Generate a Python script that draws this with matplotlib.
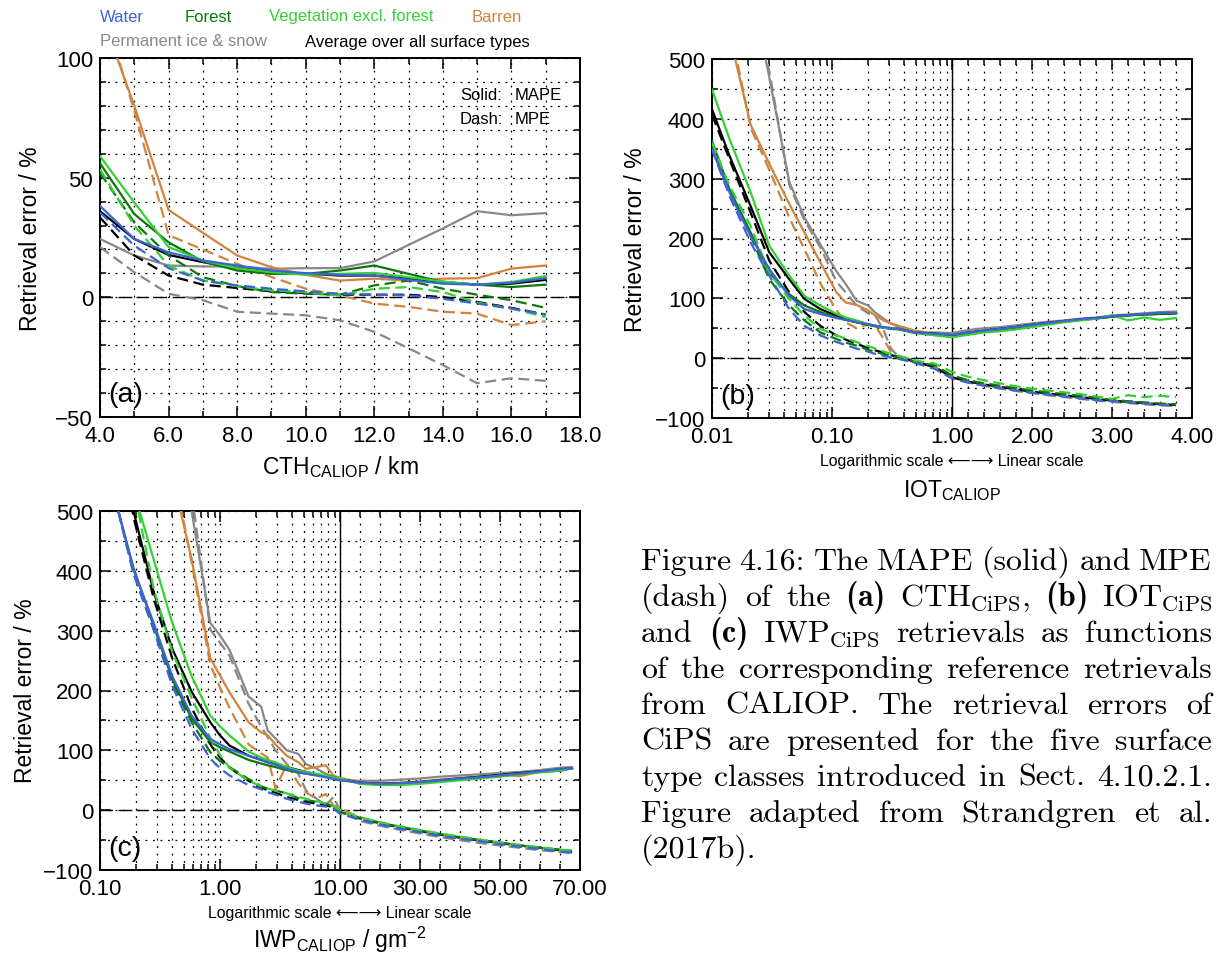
import numpy as np
import matplotlib
matplotlib.use('Agg')
import matplotlib.pyplot as plt

plt.rcParams['font.family'] = ['Liberation Sans', 'DejaVu Sans']
plt.rcParams['mathtext.fontset'] = 'custom'
plt.rcParams['mathtext.rm'] = 'cmr10'
plt.rcParams['mathtext.bf'] = 'cmb10'
plt.rcParams['mathtext.sf'] = 'Liberation Sans'

W, H = 1217, 954

names = ['Water', 'Forest', 'Vegetation excl. forest', 'Barren',
         'Permanent ice & snow', 'Average over all surface types']
colors = ['#3c63d8', '#0a780a', '#35d035', '#d0843e', '#888888', 'black']

# ---- (a) CTH ----
cth = [4, 5, 6, 7, 8, 9, 10, 11, 12, 13, 14, 15, 16, 17]
cth_water_mape = [38.2, 24.4, 18.8, 15.4, 13.3, 11.2, 10.1, 9.4, 9.1, 7.3, 5.7, 5.3, 6.1, 8.0]
cth_water_mpe = [35.5, 21.6, 12.2, 7.0, 5.0, 3.6, 2.5, 1.5, 1.1, 0.8, -0.6, -2.6, -4.7, -7.2]
cth_forest_mape = [56, 34.8, 23, 15, 11.2, 9.8, 9.8, 11.2, 13.3, 9.8, 6.4, 5.3, 4.3, 5.3]
cth_forest_mpe = [52, 31.3, 17.5, 8.4, 4.7, 2.2, 1.5, 1.1, 5.0, 7.0, 3.6, 1.1, -1.2, -4.4]
cth_veg_mape = [59, 39.6, 21, 15.4, 12.2, 10.5, 9.4, 9.8, 10.2, 8.4, 6.6, 5.3, 6.4, 8.9]
cth_veg_mpe = [53.5, 30, 13.3, 7.0, 4.7, 2.9, 2.2, 0.8, 3.6, 4.3, 2.2, -2.2, -4.7, -8.2]
cth_barren_mape = [120, 80, 36.5, 27, 17.5, 12.6, 9.4, 7.0, 7.8, 7.0, 7.8, 8.0, 12, 13.3]
cth_barren_mpe = [125, 78, 26, 20, 14, 8.5, 3.6, 0.8, -2.6, -4, -6, -6.8, -11.6, -10]
cth_ice_mape = [24.4, 17.5, 13.3, 12.9, 12.9, 11.9, 12.2, 12.2, 15, 21.9, 28.8, 36, 34.3, 35.2]
cth_ice_mpe = [21, 10.5, 1.5, -1.2, -6, -6.8, -7.5, -9.6, -14.4, -21.3, -28.3, -35.9, -33.8, -34.9]
cth_avg_mape = [36, 24.4, 17.7, 14.7, 12.2, 10.8, 9.8, 9.1, 9.1, 7.8, 6.4, 5.3, 5.7, 7.3]
cth_avg_mpe = [33.4, 17.5, 9.1, 5.3, 3.9, 2.5, 1.8, 1.1, 1.1, 1.1, 0.1, -1.9, -4.4, -7.2]

# ---- (b) IOT ----
iot = [0.01, 0.014, 0.021, 0.03, 0.044, 0.059, 0.08, 0.109, 0.13, 0.16, 0.2, 0.23,
       0.27, 0.31, 0.36, 0.49, 0.72, 1.0,
       1.2, 1.4, 1.6, 1.8, 2.0, 2.2, 2.4, 2.6, 2.8, 3.0, 3.2, 3.4, 3.6, 3.8]
iot_water_mape = [349, 277, 204, 149, 104, 82, 74, 67, 64, 60, 57, 54, 52, 50, 49, 43, 41, 39,
                  43, 46, 49, 52, 56, 59, 62, 65, 67, 70, 72, 74, 76, 76]
iot_water_mpe = [349, 271, 193, 138, 82, 54, 38, 27, 22, 16, 11, 7, 4, 1, -1, -8, -18, -34,
                 -41, -46, -50, -54, -58, -61, -64, -67, -70, -72, -74, -76, -78, -79]
iot_forest_mape = [363, 282, 210, 143, 107, 88, 77, 68, 64, 60, 56, 53, 51, 49, 48, 42, 39, 36,
                   40, 44, 47, 50, 55, 58, 61, 64, 66, 69, 71, 73, 74, 75]
iot_forest_mpe = [360, 282, 204, 132, 88, 63, 43, 32, 26, 21, 14, 10, 7, 4, 2, -6, -12, -29,
                  -37, -42, -46, -50, -54, -57, -60, -63, -66, -70, -72, -74, -76, -77]
iot_veg_mape = [449, 366, 277, 188, 138, 104, 88, 74, 68, 63, 57, 54, 51, 50, 49, 43, 38, 35,
                39, 43, 45, 48, 52, 56, 60, 63, 66, 72, 63, 68, 64, 67]
iot_veg_mpe = [360, 288, 221, 143, 99, 71, 49, 38, 33, 27, 20, 16, 11, 7, 4, -4, -9, -23,
               -31, -37, -42, -47, -51, -54, -57, -60, -64, -68, -62, -65, -63, -65]
iot_barren_mape = [700, 540, 390, 325, 258, 210, 160, 110, 93, 89, 80, 71, 63, 58, 54, 46, 41, 38,
                   42, 45, 48, 51, 55, 58, 62, 64, 67, 70, 72, 74, 75, 77]
iot_barren_mpe = [700, 560, 385, 315, 235, 182, 125, 80, 60, 50, 56, 54, 32, 10, -1, -7, -15, -29,
                  -37, -43, -48, -52, -56, -59, -62, -65, -67, -70, -72, -74, -76, -78]
iot_ice_mape = [900, 750, 620, 470, 295, 235, 190, 145, 124, 96, 88, 76, 66, 58, 52, 43, 43, 42,
                47, 50, 52, 55, 58, 61, 63, 66, 68, 71, 73, 75, 77, 78]
iot_ice_mpe = [900, 750, 620, 480, 290, 230, 185, 128, 110, 88, 75, 71, 46, 16, 2, -4, -15, -32,
               -40, -46, -51, -55, -58, -62, -65, -68, -71, -73, -75, -77, -79, -80]
iot_avg_mape = [416, 338, 254, 177, 132, 99, 82, 71, 65, 60, 56, 54, 51, 50, 49, 43, 41, 38,
                43, 46, 49, 52, 56, 59, 62, 65, 67, 70, 72, 73, 74, 75]
iot_avg_mpe = [407, 332, 243, 163, 110, 77, 54, 38, 31, 24, 17, 13, 9, 5, 2, -6, -15, -32,
               -39, -44, -48, -52, -56, -59, -62, -65, -68, -71, -73, -75, -77, -78]

# ---- (c) IWP ----
iwp = [0.142, 0.19, 0.28, 0.4, 0.58, 0.83, 1.0, 1.2, 1.73, 2.2, 2.5, 2.9, 3.6, 4.5,
       5.2, 6.3, 7.6, 8.8, 10,
       15, 20, 25, 30, 35, 40, 45, 50, 55, 60, 65, 68]
iwp_water_mape = [500, 402, 313, 224, 158, 119, 110, 102, 91, 84, 80, 76, 69, 64, 61, 58, 55, 52, 50,
                  46, 44, 45, 47, 50, 53, 55, 58, 61, 65, 69, 70]
iwp_water_mpe = [500, 396, 302, 208, 136, 86, 70, 58, 42, 35, 30, 26, 19, 14, 11, 8, 6, 3, -6,
                 -16, -24, -31, -37, -43, -48, -52, -57, -61, -65, -69, -71]
iwp_forest_mape = [500, 405, 308, 219, 153, 114, 105, 98, 84, 78, 75, 72, 67, 63, 61, 59, 57, 55, 52,
                   45, 43, 44, 46, 49, 52, 55, 58, 61, 64, 66, 70]
iwp_forest_mpe = [500, 396, 302, 214, 147, 97, 82, 72, 52, 40, 36, 33, 28, 20, 17, 14, 11, 6, -3,
                  -13, -21, -28, -34, -40, -45, -50, -54, -59, -63, -66, -68]
iwp_veg_mape = [700, 535, 419, 313, 224, 158, 140, 125, 98, 88, 84, 80, 72, 66, 64, 61, 58, 55, 53,
                44, 42, 42, 44, 47, 50, 53, 56, 60, 63, 66, 70]
iwp_veg_mpe = [690, 540, 370, 265, 188, 121, 92, 71, 49, 40, 36, 33, 28, 22, 19, 15, 11, 7, 0,
               -12, -20, -27, -33, -39, -44, -49, -54, -58, -62, -66, -68]
iwp_barren_mape = [1200, 1000, 780, 560, 420, 254, 225, 197, 147, 130, 125, 110, 91, 80, 69, 72, 75, 58, 54,
                   47, 45, 46, 48, 51, 54, 56, 59, 57, 64, 67, 70]
iwp_barren_mpe = [1200, 1000, 780, 580, 414, 243, 205, 171, 110, 95, 88, 36, 77, 45, 30, 19, 27, 8, 3,
                  -12, -21, -28, -35, -41, -46, -51, -55, -59, -63, -66, -69]
iwp_ice_mape = [1500, 1250, 950, 700, 500, 313, 292, 268, 190, 173, 133, 120, 100, 94, 77, 70, 61, 56, 50,
                49, 49, 51, 53, 56, 58, 60, 62, 64, 67, 71, 72]
iwp_ice_mpe = [1500, 1250, 950, 720, 530, 302, 280, 258, 178, 140, 122, 100, 77, 61, 33, 20, 8, 22, 0,
               -18, -26, -33, -39, -45, -50, -55, -59, -63, -67, -70, -72]
iwp_avg_mape = [640, 500, 365, 270, 198, 147, 125, 108, 91, 84, 80, 77, 72, 67, 64, 60, 57, 55, 52,
                46, 44, 45, 47, 50, 53, 56, 59, 62, 65, 68, 70]
iwp_avg_mpe = [650, 490, 354, 254, 171, 110, 88, 71, 49, 38, 33, 29, 22, 17, 14, 11, 8, 5, -3,
               -14, -22, -29, -35, -41, -46, -51, -55, -59, -63, -67, -70]


def log_lin_scale(lo, brk, hi):
    # left half logarithmic (lo..brk), right half linear (brk..hi)
    def fwd(x):
        x = np.asarray(x, dtype=float)
        with np.errstate(all='ignore'):
            lg = np.log10(np.clip(x, 1e-12, None) / lo) / np.log10(brk / lo)
        ln = 1 + (x - brk) / (hi - brk)
        return np.where(x < brk, lg, ln)

    def inv(u):
        u = np.asarray(u, dtype=float)
        return np.where(u < 1, lo * (brk / lo) ** u, brk + (u - 1) * (hi - brk))
    return fwd, inv


def px_axes(fig, x0, y0, x1, y1):
    return fig.add_axes([x0 / W, 1 - y1 / H, (x1 - x0) / W, (y1 - y0) / H])


def style(ax, xmaj, xlab, xmin, ymaj, ylab, ymin):
    ax.set_xticks(xmaj, xlab)
    ax.set_xticks(xmin, minor=True)
    ax.set_yticks(ymaj, ylab)
    ax.set_yticks(ymin, minor=True)
    ax.grid(True, which='both', color='k', lw=0.9, ls=(0, (1.5, 4.5)))
    ax.tick_params(which='both', direction='in', top=True, right=True, width=1.1)
    ax.tick_params(which='major', length=8, labelsize=16)
    ax.tick_params(axis='x', which='major', pad=6)
    ax.tick_params(axis='y', which='major', pad=5)
    ax.tick_params(which='minor', length=4)
    for s in ax.spines.values():
        s.set_linewidth(1.4)
    ax.axhline(0, color='k', lw=1.0, ls=(0, (9, 4)), zorder=1.8)


def draw(ax, x, mape, mpe):
    order = [4, 3, 5, 1, 2, 0]
    for i in order:
        ax.plot(x, mape[i], color=colors[i], lw=1.6, solid_joinstyle='round', zorder=3)
        ax.plot(x, mpe[i], color=colors[i], lw=1.6, ls=(0, (5, 2.5)), zorder=3)


fig = plt.figure(figsize=(W / 100, H / 100), dpi=100)

# (a)
ax = px_axes(fig, 100, 59, 580, 418)
draw(ax, cth,
     [cth_water_mape, cth_forest_mape, cth_veg_mape, cth_barren_mape, cth_ice_mape, cth_avg_mape],
     [cth_water_mpe, cth_forest_mpe, cth_veg_mpe, cth_barren_mpe, cth_ice_mpe, cth_avg_mpe])
ax.set_xlim(4, 18)
ax.set_ylim(-50, 100)
style(ax, [4, 6, 8, 10, 12, 14, 16, 18], ['4.0', '6.0', '8.0', '10.0', '12.0', '14.0', '16.0', '18.0'],
      [5, 7, 9, 11, 13, 15, 17],
      [-50, 0, 50, 100], ['\u221250', '0', '50', '100'],
      [-40, -30, -20, -10, 10, 20, 30, 40, 60, 70, 80, 90])
ax.text(0.017, 0.064, '(a)', transform=ax.transAxes, fontsize=20.5, va='center')
fig.text(460 / W, 1 - 96 / H, 'Solid:', fontsize=12, va='center')
fig.text(515 / W, 1 - 96 / H, 'MAPE', fontsize=12, va='center')
fig.text(460 / W, 1 - 119 / H, 'Dash:', fontsize=12, va='center')
fig.text(515 / W, 1 - 119 / H, 'MPE', fontsize=12, va='center')
fig.text(340 / W, 1 - 467 / H, r'CTH$_{\mathsf{CALIOP}}$ / km', fontsize=16.5, ha='center', va='center')
fig.text(31 / W, 1 - 239 / H, 'Retrieval error / %', fontsize=16.5, rotation=90, ha='center', va='center')

# (b)
ax = px_axes(fig, 712, 60, 1192, 419)
ax.set_xscale('function', functions=log_lin_scale(0.01, 1.0, 4.0))
draw(ax, iot,
     [iot_water_mape, iot_forest_mape, iot_veg_mape, iot_barren_mape, iot_ice_mape, iot_avg_mape],
     [iot_water_mpe, iot_forest_mpe, iot_veg_mpe, iot_barren_mpe, iot_ice_mpe, iot_avg_mpe])
ax.set_xlim(0.01, 4.0)
ax.set_ylim(-100, 500)
minor_b = [k * 0.01 for k in range(2, 10)] + [k * 0.1 for k in range(2, 10)] + \
          [1.2, 1.4, 1.6, 1.8, 2.2, 2.4, 2.6, 2.8, 3.2, 3.4, 3.6, 3.8]
style(ax, [0.01, 0.1, 1.0, 2.0, 3.0, 4.0], ['0.01', '0.10', '1.00', '2.00', '3.00', '4.00'], minor_b,
      [-100, 0, 100, 200, 300, 400, 500], ['\u2212100', '0', '100', '200', '300', '400', '500'],
      [-50, 50, 150, 250, 350, 450])
ax.axvline(1.0, color='k', lw=1.0, zorder=1.9)
ax.text(0.017, 0.06, '(b)', transform=ax.transAxes, fontsize=20.5, va='center')
fig.text(952 / W, 1 - 462 / H, 'Logarithmic scale \u27f5\u27f6 Linear scale', fontsize=11.4,
         ha='center', va='center')
fig.text(952 / W, 1 - 491 / H, r'IOT$_{\mathsf{CALIOP}}$', fontsize=16.5, ha='center', va='center')
fig.text(635 / W, 1 - 240 / H, 'Retrieval error / %', fontsize=16.5, rotation=90, ha='center', va='center')

# (c)
ax = px_axes(fig, 100, 512, 580, 871)
ax.set_xscale('function', functions=log_lin_scale(0.1, 10.0, 70.0))
draw(ax, iwp,
     [iwp_water_mape, iwp_forest_mape, iwp_veg_mape, iwp_barren_mape, iwp_ice_mape, iwp_avg_mape],
     [iwp_water_mpe, iwp_forest_mpe, iwp_veg_mpe, iwp_barren_mpe, iwp_ice_mpe, iwp_avg_mpe])
ax.set_xlim(0.1, 70.0)
ax.set_ylim(-100, 500)
minor_c = [k * 0.1 for k in range(2, 10)] + [float(k) for k in range(2, 10)] + \
          [15, 20, 25, 35, 40, 45, 55, 60, 65]
style(ax, [0.1, 1.0, 10.0, 30.0, 50.0, 70.0], ['0.10', '1.00', '10.00', '30.00', '50.00', '70.00'], minor_c,
      [-100, 0, 100, 200, 300, 400, 500], ['\u2212100', '0', '100', '200', '300', '400', '500'],
      [-50, 50, 150, 250, 350, 450])
ax.axvline(10.0, color='k', lw=1.0, zorder=1.9)
ax.text(0.017, 0.06, '(c)', transform=ax.transAxes, fontsize=20.5, va='center')
fig.text(340 / W, 1 - 914 / H, 'Logarithmic scale \u27f5\u27f6 Linear scale', fontsize=11.4,
         ha='center', va='center')
fig.text(340 / W, 1 - 940 / H, r'IWP$_{\mathsf{CALIOP}}$ / gm$^{\mathsf{-2}}$', fontsize=16.5,
         ha='center', va='center')
fig.text(26 / W, 1 - 691 / H, 'Retrieval error / %', fontsize=16.5, rotation=90, ha='center', va='center')

# legend as coloured words
legend_pos = [(100, 17), (185, 17), (269, 17), (472, 17), (100, 42), (305, 42)]
for name, c, (lx, ly) in zip(names, colors, legend_pos):
    fig.text(lx / W, 1 - ly / H, name, color=c, fontsize=12, va='center')

# caption, justified like the LaTeX source
caption = [
    'Figure 4.16: The MAPE (solid) and MPE',
    r'(dash) of the $\mathbf{(a)}$ CTH$_{\mathrm{CiPS}}$, $\mathbf{(b)}$ IOT$_{\mathrm{CiPS}}$',
    r'and $\mathbf{(c)}$ IWP$_{\mathrm{CiPS}}$ retrievals as functions',
    'of the corresponding reference retrievals',
    'from CALIOP. The retrieval errors of',
    'CiPS are presented for the five surface',
    'type classes introduced in Sect. 4.10.2.1.',
    'Figure adapted from Strandgren et al.',
    '(2017b).',
]
renderer = fig.canvas.get_renderer()
cx0, cx1, cy0, cdy, csize = 641, 1212, 570, 36, 23
for i, line in enumerate(caption):
    y = 1 - (cy0 + i * cdy) / H
    words = line.split(' ')
    txts = [fig.text(0, y, w, fontsize=csize, family='cmr10', va='baseline') for w in words]
    widths = [t.get_window_extent(renderer).width for t in txts]
    if i == len(caption) - 1 or len(words) == 1:
        gap = 0.33 * csize * 100 / 72
    else:
        gap = (cx1 - cx0 - sum(widths)) / (len(words) - 1)
    x = cx0
    for t, w in zip(txts, widths):
        t.set_x(x / W)
        x += w + gap

fig.savefig('out.png', dpi=100)
